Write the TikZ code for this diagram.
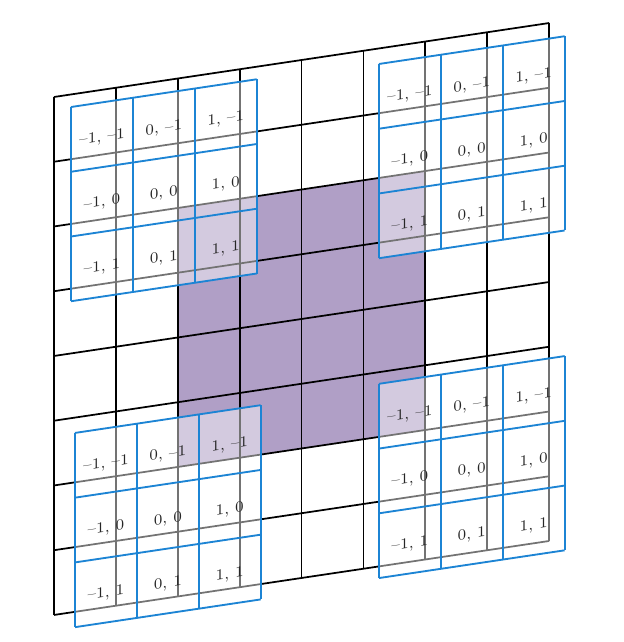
\documentclass[tikz,border=0pt]{standalone}
\usepackage{tikz}

\definecolor{cellpurple}{RGB}{176,159,198}
\definecolor{stencilblue}{RGB}{28,132,212}

\begin{document}
\begin{tikzpicture}[
    gridline/.style={black, line width=0.8pt},
    stencilline/.style={stencilblue, line width=0.85pt},
    veil/.style={fill=white, fill opacity=0.45},
    offsetlabel/.style={font=\fontsize{7}{8}\selectfont, text=black!85, yslant=0.1494, inner sep=0pt}
]
\useasboundingbox (0,0) rectangle (10.065,-10.372);
\begin{scope}[shift={(0.872,-1.567)}, x={(1cm,0.1494cm)}, y={(0cm,-1.046cm)}]
% interior block
\fill[cellpurple] (2,2) -- (6,2) -- (6,6) -- (2,6) -- cycle;
% mesh
\foreach \k in {0,...,8} {
  \draw[gridline] (\k,0) -- (\k,8);
  \draw[gridline] (0,\k) -- (8,\k);
}
% stencils
\foreach \sx/\sy [count=\s] in {0.275/0.194, 5.25/0.24, 0.34/5.237, 5.25/5.18} {
  \fill[veil] (\sx,\sy) -- (\sx+3,\sy) -- (\sx+3,\sy+3) -- (\sx,\sy+3) -- cycle;
  \foreach \k in {0,...,3} {
    \draw[stencilline] (\sx+\k,\sy) -- (\sx+\k,\sy+3);
    \draw[stencilline] (\sx,\sy+\k) -- (\sx+3,\sy+\k);
  }
  \foreach \dx/\lx in {0/--1, 1/0, 2/1}
    \foreach \dy/\ly in {0/--1, 1/0, 2/1}
      \node[offsetlabel] (st\s-\dx\dy) at (\sx+\dx+0.5,\sy+\dy+0.55) {\lx, \ly};
}
\end{scope}
\end{tikzpicture}
\end{document}
